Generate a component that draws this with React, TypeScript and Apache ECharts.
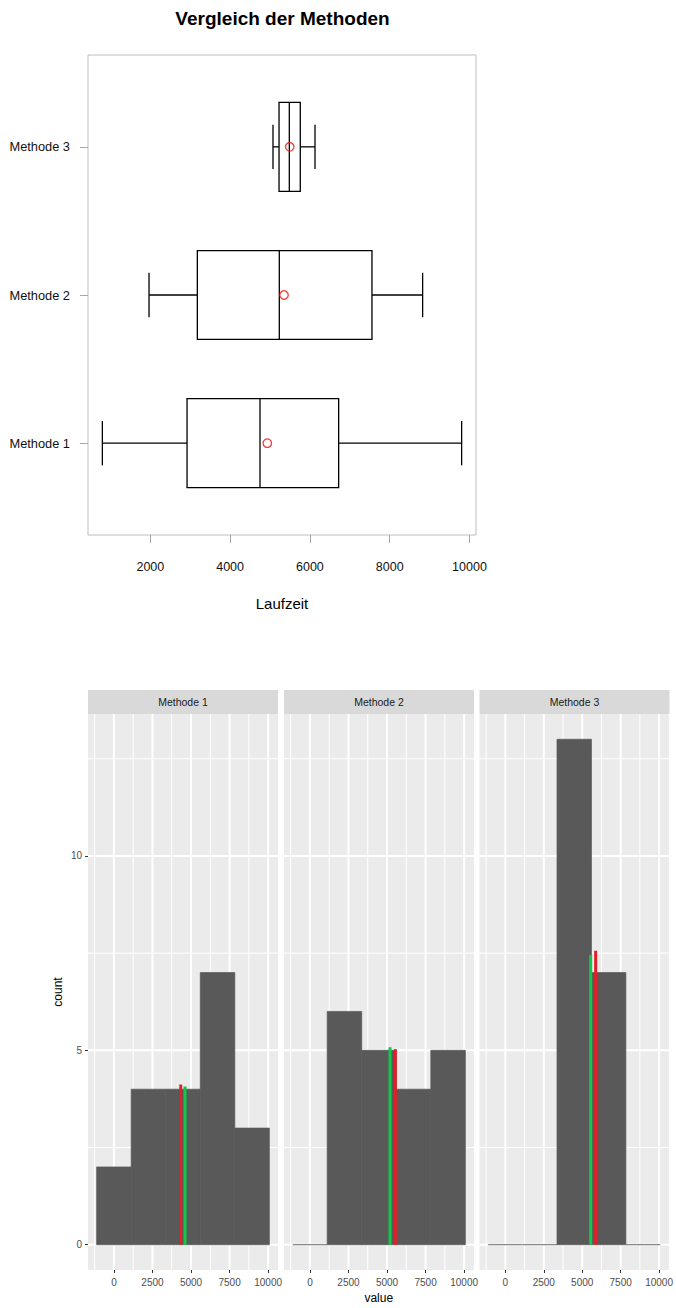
import React, { useEffect, useRef } from 'react';
import * as echarts from 'echarts';

// ---------- data ----------
const methods = ['Methode 1', 'Methode 2', 'Methode 3'];
// box plot statistics (Laufzeit)
const boxLow = [797, 1967, 5075];
const boxQ1 = [2920, 3178, 5226];
const boxMedian = [4749, 5233, 5484];
const boxQ3 = [6721, 7556, 5759];
const boxHigh = [9804, 8826, 6128];
const boxMean = [4932, 5351, 5494];
const boxTicks = [2000, 4000, 6000, 8000, 10000];

// histograms
const binEdges = [-1120, 1120, 3360, 5600, 7840, 10080];
const counts1 = [2, 4, 4, 7, 3];
const counts2 = [0, 6, 5, 4, 5];
const counts3 = [0, 0, 13, 7, 0];
const redLineX = [4332, 5538, 5875];
const redLineTop = [4.12, 5.03, 7.56];
const greenLineX = [4611, 5195, 5551];
const greenLineTop = [4.07, 5.08, 7.45];
const histXTicks = [0, 2500, 5000, 7500, 10000];
const histXMinor = [-1250, 1250, 3750, 6250, 8750];
const histYTicks = [0, 5, 10];
const histYMinor = [2.5, 7.5, 12.5];

// ---------- layout ----------
const FONT = '"Liberation Sans", Arial, Helvetica, sans-serif';
const boxGrid = { left: 88, top: 55, width: 388, height: 480 };
const panelTop = 714;
const panelHeight = 556;
const panelWidth = 190;
const panelLefts = [88, 284, 479.5];
const stripHeight = 24;

export default function App() {
  const ref = useRef<HTMLDivElement>(null);

  useEffect(() => {
    if (!ref.current) return;
    const chart = echarts.init(ref.current, undefined, { renderer: 'svg' });
    const allCounts = [counts1, counts2, counts3];

    const grids: any[] = [
      {
        left: boxGrid.left, top: boxGrid.top, width: boxGrid.width, height: boxGrid.height,
        show: true, borderColor: '#bebebe', borderWidth: 1, backgroundColor: 'transparent',
      },
      ...panelLefts.map((l) => ({
        left: l, top: panelTop, width: panelWidth, height: panelHeight,
        show: true, backgroundColor: '#EBEBEB', borderWidth: 0,
      })),
    ];

    const xAxes: any[] = [
      {
        type: 'value', gridIndex: 0, min: 437, max: 10164, position: 'bottom',
        axisLine: { show: false, onZero: false },
        axisTick: { show: true, customValues: boxTicks, length: 8, lineStyle: { color: '#a8a8a8', width: 1 } },
        axisLabel: {
          show: true, customValues: boxTicks, formatter: (v: number) => String(v),
          margin: 25, fontSize: 12.5, color: '#111', fontFamily: FONT,
        },
        splitLine: { show: false },
      },
      ...panelLefts.map((_, i) => ({
        type: 'value', gridIndex: i + 1, min: -1680, max: 10640, position: 'bottom',
        axisLine: { show: false, onZero: false },
        axisTick: { show: true, customValues: histXTicks, length: 3, lineStyle: { color: '#333333', width: 1 } },
        axisLabel: {
          show: true, customValues: histXTicks, formatter: (v: number) => String(v),
          margin: 7, fontSize: 10, color: '#4D4D4D', fontFamily: FONT,
        },
        splitLine: { show: false },
      })),
    ];

    const yAxes: any[] = [
      {
        type: 'value', gridIndex: 0, min: 0.38, max: 3.62,
        axisLine: { show: false, onZero: false },
        axisTick: { show: true, customValues: [1, 2, 3], length: 8, lineStyle: { color: '#a8a8a8', width: 1 } },
        axisLabel: {
          show: true, customValues: [1, 2, 3],
          formatter: (v: number) => methods[Math.round(v) - 1] ?? '',
          margin: 18, fontSize: 12.8, color: '#111', fontFamily: FONT,
        },
        splitLine: { show: false },
      },
      ...panelLefts.map((_, i) => ({
        type: 'value', gridIndex: i + 1, min: -0.65, max: 13.65,
        axisLine: { show: false, onZero: false },
        axisTick: { show: i === 0, customValues: histYTicks, length: 3, lineStyle: { color: '#333333', width: 1 } },
        axisLabel: {
          show: i === 0, customValues: histYTicks, formatter: (v: number) => String(v),
          margin: 6, fontSize: 10, color: '#4D4D4D', fontFamily: FONT,
        },
        splitLine: { show: false },
      })),
    ];

    const series: any[] = [];

    // Box plot
    series.push({
      type: 'custom',
      coordinateSystem: 'cartesian2d',
      xAxisIndex: 0, yAxisIndex: 0,
      silent: true,
      encode: { x: [0, 1, 2, 3, 4], y: 5 },
      data: methods.map((_, i) => [boxLow[i], boxQ1[i], boxMedian[i], boxQ3[i], boxHigh[i], i + 1]),
      renderItem: (params: any, api: any) => {
        const lo = api.value(0), q1 = api.value(1), med = api.value(2), q3 = api.value(3), hi = api.value(4), cat = api.value(5);
        const halfH = api.size([0, 0.3])[1];
        const capH = halfH / 2;
        const yc = api.coord([med, cat])[1];
        const X = (v: number) => api.coord([v, cat])[0];
        const st = { stroke: '#000', lineWidth: 1.3, fill: 'none' };
        return {
          type: 'group',
          children: [
            { type: 'rect', shape: { x: X(q1), y: yc - halfH, width: X(q3) - X(q1), height: 2 * halfH }, style: st },
            { type: 'line', shape: { x1: X(med), y1: yc - halfH, x2: X(med), y2: yc + halfH }, style: st },
            { type: 'line', shape: { x1: X(lo), y1: yc, x2: X(q1), y2: yc }, style: st },
            { type: 'line', shape: { x1: X(q3), y1: yc, x2: X(hi), y2: yc }, style: st },
            { type: 'line', shape: { x1: X(lo), y1: yc - capH, x2: X(lo), y2: yc + capH }, style: st },
            { type: 'line', shape: { x1: X(hi), y1: yc - capH, x2: X(hi), y2: yc + capH }, style: st },
          ],
        };
      },
    });

    // Means
    series.push({
      type: 'scatter',
      xAxisIndex: 0, yAxisIndex: 0,
      silent: true,
      symbol: 'circle', symbolSize: 8.5,
      itemStyle: { color: 'rgba(0,0,0,0)', borderColor: '#ff0000', borderWidth: 1.3 },
      data: methods.map((_, i) => [boxMean[i], i + 1]),
      z: 5,
    });

    // Histogram panels
    panelLefts.forEach((_, p) => {
      const gridData: number[][] = [
        ...histXMinor.map((v) => [v, 0, 0]),
        ...histYMinor.map((v) => [v, 1, 0]),
        ...histXTicks.map((v) => [v, 0, 1]),
        ...histYTicks.map((v) => [v, 1, 1]),
      ];
      series.push({
        type: 'custom', coordinateSystem: 'cartesian2d',
        xAxisIndex: p + 1, yAxisIndex: p + 1, silent: true, z: 1,
        encode: { x: 0 },
        data: gridData,
        renderItem: (params: any, api: any) => {
          const v = api.value(0);
          const vertical = api.value(1) === 0;
          const major = api.value(2) === 1;
          const cs = params.coordSys;
          const style = { stroke: '#ffffff', lineWidth: major ? 2 : 1 };
          if (vertical) {
            const x = api.coord([v, 0])[0];
            return { type: 'line', shape: { x1: x, y1: cs.y, x2: x, y2: cs.y + cs.height }, style };
          }
          const y = api.coord([0, v])[1];
          return { type: 'line', shape: { x1: cs.x, y1: y, x2: cs.x + cs.width, y2: y }, style };
        },
      });

      series.push({
        type: 'custom', coordinateSystem: 'cartesian2d',
        xAxisIndex: p + 1, yAxisIndex: p + 1, silent: true, z: 2,
        encode: { x: [0, 1], y: 2 },
        data: allCounts[p].map((c, k) => [binEdges[k], binEdges[k + 1], c]),
        renderItem: (params: any, api: any) => {
          const x0 = api.value(0), x1 = api.value(1), c = api.value(2);
          const p0 = api.coord([x0, 0]);
          const p1 = api.coord([x1, c]);
          if (c === 0) {
            return { type: 'line', shape: { x1: p0[0], y1: p0[1], x2: p1[0], y2: p0[1] }, style: { stroke: '#6a6a6a', lineWidth: 1 } };
          }
          return {
            type: 'rect',
            shape: { x: p0[0], y: p1[1], width: p1[0] - p0[0], height: p0[1] - p1[1] },
            style: { fill: '#595959', stroke: '#595959', lineWidth: 0.7 },
          };
        },
      });

      series.push({
        type: 'custom', coordinateSystem: 'cartesian2d',
        xAxisIndex: p + 1, yAxisIndex: p + 1, silent: true, z: 3,
        encode: { x: 0, y: 1 },
        data: [
          [redLineX[p], redLineTop[p], 0],
          [greenLineX[p], greenLineTop[p], 1],
        ],
        renderItem: (params: any, api: any) => {
          const x = api.value(0), top = api.value(1), kind = api.value(2);
          const a = api.coord([x, 0]);
          const b = api.coord([x, top]);
          return {
            type: 'line',
            shape: { x1: a[0], y1: a[1], x2: b[0], y2: b[1] },
            style: { stroke: kind === 0 ? '#e41e26' : '#12c84a', lineWidth: 3 },
          };
        },
      });
    });

    const graphics: any[] = [
      {
        type: 'text', x: 282.5, y: 18, silent: true,
        style: { text: 'Vergleich der Methoden', fill: '#000', fontSize: 19, fontWeight: 'bold', fontFamily: FONT, align: 'center', verticalAlign: 'middle' },
      },
      {
        type: 'text', x: 282, y: 603, silent: true,
        style: { text: 'Laufzeit', fill: '#000', fontSize: 15, fontFamily: FONT, align: 'center', verticalAlign: 'middle' },
      },
      ...panelLefts.map((l) => ({
        type: 'rect', silent: true,
        shape: { x: l, y: panelTop - stripHeight, width: panelWidth, height: stripHeight },
        style: { fill: '#D9D9D9' },
      })),
      ...panelLefts.map((l, i) => ({
        type: 'text', silent: true, x: l + panelWidth / 2, y: panelTop - stripHeight / 2,
        style: { text: methods[i], fill: '#1A1A1A', fontSize: 10.5, fontFamily: FONT, align: 'center', verticalAlign: 'middle' },
      })),
      {
        type: 'text', silent: true, x: 58, y: panelTop + panelHeight / 2, rotation: Math.PI / 2,
        style: { text: 'count', fill: '#000', fontSize: 12, fontFamily: FONT, align: 'center', verticalAlign: 'middle' },
      },
      {
        type: 'text', silent: true, x: (panelLefts[0] + panelLefts[2] + panelWidth) / 2, y: 1298,
        style: { text: 'value', fill: '#000', fontSize: 12, fontFamily: FONT, align: 'center', verticalAlign: 'middle' },
      },
    ];

    chart.setOption({
      animation: false,
      backgroundColor: '#ffffff',
      textStyle: { fontFamily: FONT },
      grid: grids,
      xAxis: xAxes,
      yAxis: yAxes,
      series,
      graphic: graphics,
    });

    return () => {
      chart.dispose();
    };
  }, []);

  return (
    <div
      ref={ref}
      style={{ position: 'absolute', left: 0, top: 0, width: 676, height: 1308, background: '#fff' }}
    />
  );
}
